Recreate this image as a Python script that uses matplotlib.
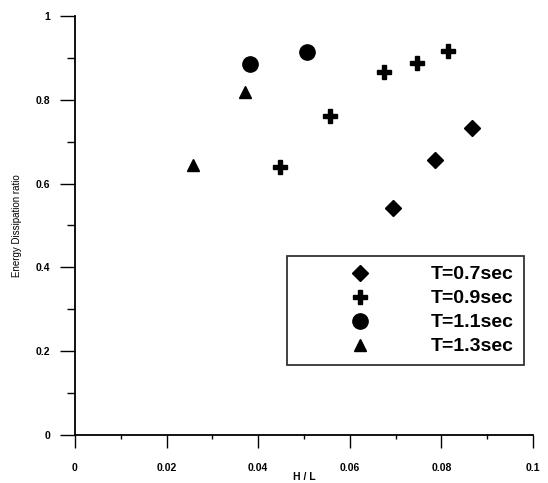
import matplotlib
matplotlib.use("Agg")
import matplotlib.pyplot as plt
from matplotlib.ticker import MultipleLocator

plt.rcParams['font.family'] = ['Liberation Sans', 'DejaVu Sans']

labels = ["T=0.7sec", "T=0.9sec", "T=1.1sec", "T=1.3sec"]
x_07 = [0.0695, 0.0786, 0.0866]
y_07 = [0.541, 0.656, 0.732]
x_09 = [0.0448, 0.0557, 0.0675, 0.0746, 0.0815]
y_09 = [0.640, 0.762, 0.866, 0.887, 0.917]
x_11 = [0.0382, 0.0506]
y_11 = [0.885, 0.915]
x_13 = [0.0258, 0.0371]
y_13 = [0.644, 0.818]

xticks = [0, 0.02, 0.04, 0.06, 0.08, 0.1]
xtick_labels = ["0", "0.02", "0.04", "0.06", "0.08", "0.1"]
yticks = [0, 0.2, 0.4, 0.6, 0.8, 1]
ytick_labels = ["0", "0.2", "0.4", "0.6", "0.8", "1"]

fig = plt.figure(figsize=(5.48, 4.83), dpi=100)
ax = fig.add_axes([75/548, 48/483, 458/548, 419/483])

ax.plot(x_07, y_07, linestyle='none', marker='D', markersize=8, color='black', label=labels[0])
ax.plot(x_09, y_09, linestyle='none', marker='P', markersize=10.5, color='black', label=labels[1])
ax.plot(x_11, y_11, linestyle='none', marker='o', markersize=11, color='black', label=labels[2])
ax.plot(x_13, y_13, linestyle='none', marker='^', markersize=9, color='black', label=labels[3])

ax.set_xlim(0, 0.1)
ax.set_ylim(0, 1)
ax.spines['top'].set_visible(False)
ax.spines['right'].set_visible(False)
ax.spines['left'].set_linewidth(1.3)
ax.spines['bottom'].set_linewidth(1.3)

ax.set_xticks(xticks)
ax.set_xticklabels(xtick_labels)
ax.set_yticks(yticks)
ax.set_yticklabels(ytick_labels)
ax.xaxis.set_minor_locator(MultipleLocator(0.01))
ax.yaxis.set_minor_locator(MultipleLocator(0.1))
ax.tick_params(axis='x', which='major', direction='out', length=9.5, width=1.0, labelsize=7.5, pad=11)
ax.tick_params(axis='x', which='minor', direction='out', length=3, width=1.0)
ax.tick_params(axis='y', which='major', direction='out', length=10.8, width=1.0, labelsize=7.5, pad=7)
ax.tick_params(axis='y', which='minor', direction='out', length=5.8, width=1.0)
for t in ax.get_xticklabels() + ax.get_yticklabels():
    t.set_fontweight('bold')

ax.set_ylabel("Energy Dissipation ratio", fontsize=7)
ax.yaxis.set_label_coords(-0.115, 0.5)
fig.text(0.5 * (75 + 533) / 548, 1/483, "H / L", fontsize=7.5, fontweight='bold', ha='center', va='bottom')

leg = ax.legend(loc='upper left', bbox_to_anchor=(287/548, (483-256)/483), bbox_transform=fig.transFigure,
                fontsize=14, frameon=True, fancybox=False, edgecolor='black',
                borderpad=0.5, labelspacing=0.33, handlelength=6.5, handletextpad=0.41,
                borderaxespad=0, markerscale=1.0)
leg.get_frame().set_linewidth(1.3)
for t in leg.get_texts():
    t.set_fontweight('bold')

fig.savefig("out.png", dpi=100)
